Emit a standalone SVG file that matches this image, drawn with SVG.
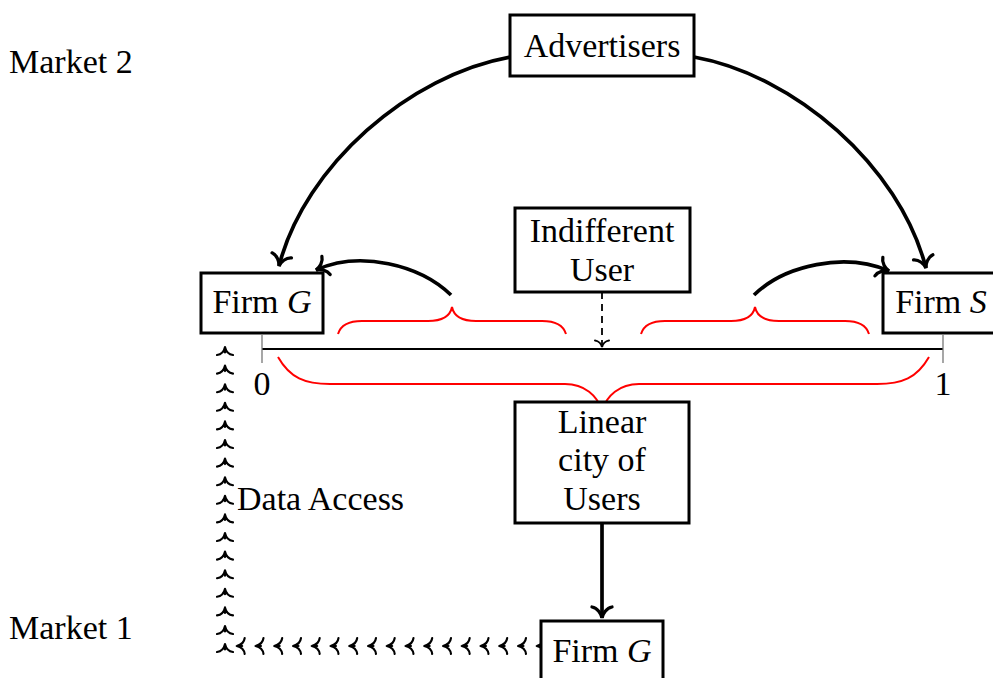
<svg xmlns="http://www.w3.org/2000/svg" xmlns:xlink="http://www.w3.org/1999/xlink" width="993" height="678" viewBox="0 0 993 678">
<style>
text{font-family:"Liberation Serif","Times New Roman",serif;font-size:34px;fill:#000}
.box{fill:#fff;stroke:#000;stroke-width:3}
.thick{fill:none;stroke:#000;stroke-width:3.7}
.brace{fill:none;stroke:#f00;stroke-width:2}
.tick{stroke:#777;stroke-width:1.3}
.chain{fill:none;stroke:#000;stroke-width:2.1;stroke-linecap:round}
</style>
<defs>
<marker id="to" markerUnits="userSpaceOnUse" viewBox="-14 -12 16 24" refX="0" refY="0" markerWidth="16" markerHeight="24" orient="auto" overflow="visible">
<path d="M-11,-10 C-10,-4.5 -4.5,-0.9 0,0 C-4.5,0.9 -10,4.5 -11,10" fill="none" stroke="#000" stroke-width="3.3" stroke-linecap="round"/>
</marker>
<marker id="toS" markerUnits="userSpaceOnUse" viewBox="-8 -8 10 16" refX="0" refY="0" markerWidth="10" markerHeight="16" orient="auto" overflow="visible">
<path d="M-6.5,-7 C-6,-3.2 -2.7,-0.6 0,0 C-2.7,0.6 -6,3.2 -6.5,7" fill="none" stroke="#000" stroke-width="2" stroke-linecap="round"/>
</marker>
<g id="up"><path class="chain" d="M-8,4 C-4,3.5 -1,0.5 0,-4 C1,0.5 4,3.5 8,4 M0,-4 V1.5"/></g>
</defs>

<text x="9" y="73">Market 2</text>
<text x="9" y="639">Market 1</text>

<g id="connectors">
<path class="thick" d="M510,57 C410,75 305,165 279,266" marker-end="url(#to)"/>
<path class="thick" d="M694,57 C794,75 899,165 926,268" marker-end="url(#to)"/>
<path class="thick" d="M451,295 C420,265 360,250 316,270" marker-end="url(#to)"/>
<path class="thick" d="M754,295 C785,265 845,252 889,271" marker-end="url(#to)"/>
<path class="thick" d="M602,523 V618" marker-end="url(#to)"/>
<path d="M602,292 V347" fill="none" stroke="#000" stroke-width="1.8" stroke-dasharray="7,5" marker-end="url(#toS)"/>
<g id="data-access">
<use xlink:href="#up" x="225" y="351"/>
<use xlink:href="#up" x="225" y="369.6"/>
<use xlink:href="#up" x="225" y="388.2"/>
<use xlink:href="#up" x="225" y="406.8"/>
<use xlink:href="#up" x="225" y="425.4"/>
<use xlink:href="#up" x="225" y="444"/>
<use xlink:href="#up" x="225" y="462.6"/>
<use xlink:href="#up" x="225" y="481.2"/>
<use xlink:href="#up" x="225" y="499.8"/>
<use xlink:href="#up" x="225" y="518.4"/>
<use xlink:href="#up" x="225" y="537"/>
<use xlink:href="#up" x="225" y="555.6"/>
<use xlink:href="#up" x="225" y="574.2"/>
<use xlink:href="#up" x="225" y="592.8"/>
<use xlink:href="#up" x="225" y="611.4"/>
<use xlink:href="#up" x="225" y="630"/>
<use xlink:href="#up" x="225" y="648"/>
<g transform="translate(0,646) rotate(-90)">
<use xlink:href="#up" x="0" y="240.7"/>
<use xlink:href="#up" x="0" y="259.5"/>
<use xlink:href="#up" x="0" y="278.2"/>
<use xlink:href="#up" x="0" y="297"/>
<use xlink:href="#up" x="0" y="315.7"/>
<use xlink:href="#up" x="0" y="334.5"/>
<use xlink:href="#up" x="0" y="353.2"/>
<use xlink:href="#up" x="0" y="372"/>
<use xlink:href="#up" x="0" y="390.7"/>
<use xlink:href="#up" x="0" y="409.5"/>
<use xlink:href="#up" x="0" y="428.2"/>
<use xlink:href="#up" x="0" y="447"/>
<use xlink:href="#up" x="0" y="465.7"/>
<use xlink:href="#up" x="0" y="484.5"/>
<use xlink:href="#up" x="0" y="503.2"/>
<use xlink:href="#up" x="0" y="522"/>
<use xlink:href="#up" x="0" y="540.7"/>
</g>
</g>
<text x="237" y="510">Data Access</text>
</g>

<g id="axis">
<line x1="262" y1="349" x2="943" y2="349" stroke="#000" stroke-width="2"/>
<line class="tick" x1="262" y1="335" x2="262" y2="363"/>
<line class="tick" x1="943" y1="335" x2="943" y2="363"/>
<text x="262" y="395" text-anchor="middle">0</text>
<text x="943" y="395" text-anchor="middle">1</text>
</g>

<g id="braces">
<path class="brace" d="M338,334 C341,324 350,321 362,321 L428,321 C441,321 450,317 452,307 C454,317 463,321 476,321 L542,321 C554,321 563,324 566,334"/>
<path class="brace" d="M641,334 C644,324 653,321 665,321 L731,321 C744,321 753,317 755,307 C757,317 766,321 779,321 L845,321 C857,321 866,324 869,334"/>
<path class="brace" d="M278,357 C290,378 305,384 330,384 L565,384 C585,384 597,396 602,410 C607,396 619,384 639,384 L877,384 C902,384 917,378 929,357"/>
</g>

<g id="advertisers">
<rect class="box" x="510" y="15" width="184" height="61"/>
<text x="602" y="57" text-anchor="middle">Advertisers</text>
</g>
<g id="firm-g-top">
<rect class="box" x="201" y="273" width="122" height="60"/>
<text x="262" y="313" text-anchor="middle">Firm <tspan font-style="italic">G</tspan></text>
</g>
<g id="firm-s">
<rect class="box" x="883" y="273" width="117" height="60"/>
<text x="941" y="313" text-anchor="middle">Firm <tspan font-style="italic">S</tspan></text>
</g>
<g id="indifferent-user">
<rect class="box" x="515" y="208" width="175" height="84"/>
<text x="602" y="242" text-anchor="middle">Indifferent</text>
<text x="602" y="281" text-anchor="middle">User</text>
</g>
<g id="linear-city">
<rect class="box" x="515" y="402" width="174" height="121"/>
<text x="602" y="433" text-anchor="middle">Linear</text>
<text x="602" y="471" text-anchor="middle">city of</text>
<text x="602" y="510" text-anchor="middle">Users</text>
</g>
<g id="firm-g-bottom">
<rect class="box" x="541" y="621" width="122" height="62"/>
<text x="602" y="662" text-anchor="middle">Firm <tspan font-style="italic">G</tspan></text>
</g>
</svg>
